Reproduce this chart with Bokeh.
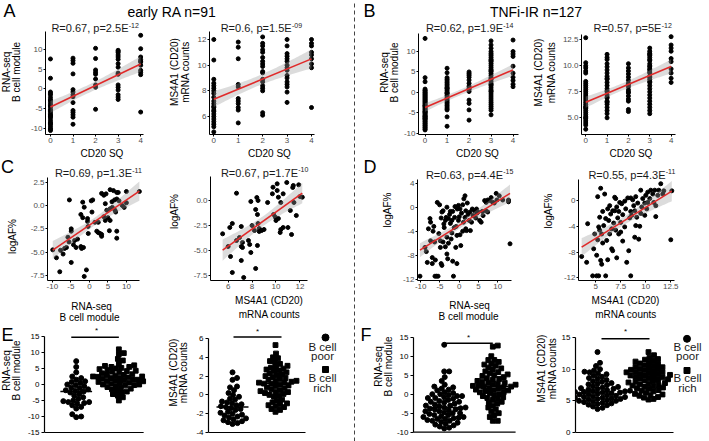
import numpy as np
from bokeh.plotting import figure
from bokeh.models import Label, FixedTicker, Range1d
from bokeh.layouts import row, column
from bokeh.embed import file_html
from bokeh.resources import INLINE

FONT = "Liberation Sans"

# ===================== DATA =====================
sq_levels = [0, 1, 2, 3, 4]

# A: early RA, CD20 SQ vs RNA-seq B cell module
a1_sq0 = [7.6, 2.7, -0.8, -1.2, -1.5, -2.2, -2.8, -3.0, -3.5, -4.0, -4.3, -4.6, -5.2, -5.5, -5.8, -6.3, -6.6, -6.9, -7.0, -7.4, -8.0, -8.5, -8.8, -9.0, -9.5, -10.0, -10.3, -10.6]
a1_sq1 = [7.8, 7.2, 6.5, 3.8, -0.2, -0.8, -1.5, -2.0, -3.5, -5.5, -6.0, -6.6, -7.2, -9.0]
a1_sq2 = [10.3, 7.7, 4.8, 4.2, 3.7, 2.5, 1.0, 0.4, -5.2]
a1_sq3 = [9.8, 9.5, 9.2, 8.6, 8.1, 7.5, 6.4, 5.5, 4.0, 3.7, 1.0, 0.4, -0.3, -1.5, -2.1, -2.7]
a1_sq4 = [13.6, 10.2, 8.1, 7.4, 7.0, 6.8, 6.0, 4.7, 4.2, 3.6, -5.9]
# A: early RA, CD20 SQ vs MS4A1 mRNA counts
a2_sq0 = [12.0, 10.4, 8.9, 8.6, 8.4, 8.2, 8.0, 7.8, 7.5, 7.2, 7.0, 6.8, 6.7, 6.5, 6.4, 6.2, 6.0, 5.8, 5.6, 5.4, 5.2, 4.8]
a2_sq1 = [11.8, 11.4, 10.5, 8.5, 8.3, 7.4, 7.2, 7.0, 6.7, 6.5, 5.5]
a2_sq2 = [12.2, 11.7, 11.5, 11.2, 11.0, 10.6, 10.3, 10.1, 9.9, 9.5, 9.4, 8.9, 8.7, 8.4, 8.2, 8.0, 6.3, 6.1]
a2_sq3 = [12.0, 11.5, 10.9, 10.7, 10.5, 10.3, 10.0, 9.8, 9.6, 9.2, 9.0, 8.7, 8.5, 8.3, 7.9, 7.1]
a2_sq4 = [12.0, 11.7, 11.5, 11.0, 10.8, 10.5, 10.1, 9.8, 6.7]

# B: TNFi-IR, CD20 SQ vs RNA-seq B cell module
b1_sq0 = [13.2, 3.6, 2.6, 0.8, 0.5, 0.3, 0.0, -0.2, -0.5, -0.7, -1.0, -1.2, -1.5, -1.7, -2.0, -2.2, -2.5, -2.7, -3.0, -3.2, -3.3, -3.5, -3.7, -4.0, -4.2, -4.5, -4.7, -4.8, -5.0, -5.2, -5.5, -5.7, -5.9, -6.0, -6.2, -6.4, -6.5, -6.7, -7.0, -7.2, -7.5, -7.7, -8.0, -8.2, -8.5, -8.7, -9.0, -9.2]
b1_sq1 = [5.9, 4.8, 3.6, 3.2, 2.8, 2.4, 2.0, 1.6, 1.2, 1.0, 0.8, 0.4, 0.0, -0.2, -0.4, -0.8, -1.2, -1.6, -2.0, -2.4, -2.8, -3.2, -3.6, -4.0, -4.3, -6.0, -8.3]
b1_sq2 = [5.0, 4.6, 4.2, 3.7, 3.0, 2.2, 1.5, 1.0, 0.7, 0.2, -1.9, -2.7, -4.3, -6.8]
b1_sq3 = [12.6, 11.6, 10.8, 10.0, 9.5, 9.1, 8.6, 8.1, 7.8, 7.6, 7.1, 6.6, 6.1, 5.6, 5.3, 5.1, 4.6, 4.1, 3.6, 3.3, 3.1, 2.6, 2.1, 1.9, 1.6, 1.1, 0.6, 0.3, 0.1, -0.4, -0.9, -1.4, -1.9, -2.4, -2.9, -3.4, -3.9, -4.4, -5.5]
b1_sq4 = [12.8, 10.0, 9.4, 8.8, 6.4, 4.7, 3.7, 2.9, 2.0, 1.4]
# B: TNFi-IR, CD20 SQ vs MS4A1 mRNA counts
b2_sq0 = [12.7, 10.3, 10.0, 9.8, 9.5, 9.3, 8.5, 8.3, 8.1, 7.9, 7.7, 7.5, 7.3, 7.1, 6.9, 6.7, 6.5, 6.3, 6.1, 6.0, 5.9, 5.7, 5.5, 5.3, 5.1, 5.0, 4.9, 4.7, 4.5, 4.3, 3.9]
b2_sq1 = [11.1, 10.8, 10.6, 10.2, 9.9, 9.6, 9.3, 9.0, 8.8, 8.7, 8.4, 8.1, 7.8, 7.6, 7.5, 7.2, 7.0, 6.9, 6.6, 6.5, 6.3, 6.0, 5.7, 5.4, 5.0]
b2_sq2 = [10.2, 9.8, 9.5, 9.2, 8.9, 8.6, 8.3, 8.2, 8.0, 7.7, 7.5, 7.4, 7.1, 6.8, 6.6, 5.8, 5.6]
b2_sq3 = [11.7, 11.4, 11.2, 11.1, 11.0, 10.8, 10.6, 10.5, 10.2, 10.0, 9.9, 9.7, 9.6, 9.4, 9.3, 9.0, 8.9, 8.7, 8.5, 8.4, 8.1, 7.8, 7.5, 7.2, 6.9, 6.6, 6.3, 6.0, 5.7, 5.4]
b2_sq4 = [12.8, 12.0, 11.7, 11.4, 10.7, 10.4, 9.7, 9.3, 8.8, 8.4]

# C: early RA, RNA-seq B cell module / MS4A1 vs logAF%  (x, y)
c1_points = [(-9.9, -4.75), (-8.9, -5.6), (-8.0, -7.1), (-7.8, -4.8), (-7.1, -5.2), (-6.7, -4.6), (-6.2, -4.5), (-5.8, -3.4), (-5.5, -3.9), (-4.9, -2.5), (-4.9, -2.75), (-4.9, -6.1), (-5.4, 0.6), (-4.3, -4.2), (-4.0, -3.75), (-3.6, -4.5), (-3.2, -3.6), (-2.3, -4.4), (-2.1, -4.6), (-2.3, -0.96), (-1.8, 0.36), (-1.4, -0.18), (-1.8, -1.3), (-1.6, -4.5), (-1.4, -7.6), (-0.8, -6.9), (-0.5, -1.4), (-0.5, -1.7), (-0.35, -2.25), (-0.3, -3.0), (0.5, 0.5), (0.7, -0.7), (0.9, 0.6), (1.5, -1.8), (2.0, -2.75), (2.4, -1.8), (2.4, -2.9), (2.9, -3.0), (3.3, -3.3), (3.3, -3.1), (3.3, 1.3), (3.9, 1.1), (3.9, -1.2), (4.3, -1.6), (4.3, 0.2), (4.5, 1.25), (4.7, -0.5), (5.0, -1.3), (5.6, 1.7), (5.6, -0.35), (5.4, -2.7), (5.6, -1.6), (6.1, 0.4), (6.2, -0.2), (6.5, 1.6), (6.8, 0.6), (6.9, -0.5), (7.1, -0.7), (7.4, 1.4), (7.4, -2.75), (7.4, -3.5), (7.8, 1.4), (7.4, 0.7), (8.0, 0.5), (8.9, 0.0), (9.4, -0.2), (10.0, 1.5), (10.0, 0.3), (13.5, 1.5)]
c2_points = [(5.54, -3.33), (6.0, -4.6), (6.14, -2.7), (6.2, -5.6), (6.35, -2.3), (6.35, -7.2), (6.7, 0.73), (6.7, -4.0), (6.95, -3.7), (7.1, -2.6), (7.1, -4.6), (7.2, -4.7), (7.1, -6.0), (7.2, -4.2), (7.3, -7.7), (7.7, -4.0), (7.8, -4.4), (7.9, -0.1), (7.9, -5.2), (8.0, -2.5), (8.2, -3.0), (8.3, -6.8), (8.3, -0.9), (8.4, 0.3), (8.45, -1.4), (8.45, -4.5), (8.5, 0.0), (8.5, -2.3), (8.6, -2.8), (8.6, -3.1), (8.8, -3.0), (9.0, -2.9), (9.3, -0.2), (9.7, 0.67), (9.75, 1.33), (9.8, -1.4), (9.95, -1.67), (10.0, -2.0), (10.1, 1.67), (10.1, 1.0), (10.2, -1.8), (10.2, 0.33), (10.35, -3.2), (10.4, -2.9), (10.4, -0.2), (10.6, 0.67), (10.6, -2.7), (10.9, 1.8), (11.0, -2.7), (11.2, -1.0), (11.3, -3.4), (11.4, 1.3), (11.45, 1.5), (11.5, -0.2), (11.7, -1.5), (11.9, 1.57), (12.0, 0.4), (12.2, 0.33)]

# D: TNFi-IR, RNA-seq B cell module / MS4A1 vs logAF%  (x, y)
d1_points = [(-10.2, -11.5), (-8.9, -6.7), (-8.55, -7.4), (-8.3, -9.2), (-8.0, -3.6), (-7.6, -1.9), (-7.45, -2.5), (-7.45, -5.6), (-7.0, -9.4), (-7.0, -8.4), (-6.8, -4.0), (-6.6, -3.2), (-6.4, -5.8), (-6.3, -11.5), (-6.2, -8.8), (-5.9, -11.5), (-5.7, 0.8), (-5.5, -11.5), (-5.3, -4.4), (-5.1, 0.4), (-4.9, -5.6), (-4.9, -6.7), (-4.7, -1.8), (-4.7, -9.4), (-4.5, -9.7), (-4.5, -0.8), (-4.2, -0.6), (-4.2, -5.8), (-4.0, -2.8), (-3.9, -3.4), (-3.6, -2.2), (-3.6, -6.6), (-3.4, -1.7), (-3.2, 0.0), (-3.2, -5.0), (-3.2, -7.8), (-3.0, -8.6), (-2.8, -6.0), (-2.8, -1.9), (-2.5, -1.2), (-2.3, -2.7), (-2.3, -0.7), (-2.1, -5.3), (-1.9, -2.2), (-1.9, -4.3), (-1.7, -9.0), (-1.7, -0.7), (-1.5, -11.5), (-1.3, -3.4), (-1.2, -1.7), (-1.1, 0.1), (-0.9, -6.7), (-0.8, -3.2), (-0.6, -4.7), (-0.6, -9.4), (-0.5, -0.3), (-0.2, 0.3), (-0.2, -2.2), (0.0, -1.6), (0.2, -0.3), (0.2, -4.6), (0.4, -6.4), (0.6, -1.0), (0.9, 0.4), (0.9, -4.0), (1.1, -2.5), (1.2, 1.4), (1.5, -1.7), (1.5, 1.9), (1.7, -0.6), (1.7, -3.6), (1.9, -3.9), (2.1, 0.7), (2.3, -1.2), (2.6, -2.2), (2.8, -0.8), (2.9, -3.9), (3.2, -2.5), (3.4, -0.3), (3.6, -1.4), (4.0, -0.6), (4.3, -1.8), (4.5, -0.3), (4.6, -1.0), (4.9, -0.8), (5.3, -2.2), (5.7, -2.5), (6.0, -0.7), (6.2, -1.4), (6.6, 1.1), (6.9, -0.6), (7.0, 0.8), (7.4, 1.2), (7.4, -0.8), (7.9, 1.1), (8.3, 1.6), (8.7, 0.8), (9.1, 0.7), (9.6, 2.3), (9.8, 1.2), (10.4, 1.9), (11.3, 1.2), (12.8, 1.2), (12.8, 0.9), (13.2, -6.1)]
d2_points = [(3.6, -8.7), (4.1, -9.6), (4.2, -3.6), (4.7, -11.7), (4.8, -7.5), (4.9, -5.2), (5.1, -8.5), (5.1, -11.7), (5.2, 0.6), (5.2, -6.1), (5.3, -4.1), (5.3, -11.7), (5.4, -4.6), (5.4, -2.6), (5.5, 1.9), (5.5, -9.3), (5.6, -9.9), (5.6, -5.2), (5.7, -6.6), (5.7, -1.7), (5.8, -3.9), (5.9, 1.0), (6.0, -2.8), (6.0, -11.7), (6.1, -6.2), (6.2, -1.3), (6.2, -9.2), (6.3, -3.1), (6.4, -0.8), (6.4, -5.2), (6.5, -2.1), (6.6, -7.5), (6.6, -4.4), (6.7, -7.8), (6.7, -1.6), (6.8, -3.5), (6.9, 0.5), (6.9, -1.6), (7.0, 0.3), (7.0, -4.6), (7.1, -8.9), (7.1, -1.0), (7.2, -2.7), (7.3, -5.2), (7.3, -1.7), (7.4, -0.3), (7.5, -3.4), (7.5, -4.9), (7.6, -0.5), (7.7, -2.2), (7.7, -6.3), (7.9, -0.1), (7.9, -4.1), (8.0, -1.3), (8.1, -9.6), (8.2, 0.4), (8.3, -7.8), (8.4, -2.7), (8.5, 0.4), (8.5, -11.7), (8.5, -1.7), (8.6, -2.3), (8.7, 0.1), (8.8, -0.8), (8.9, -5.7), (8.9, -1.6), (9.0, -3.9), (9.0, 0.6), (9.1, -2.6), (9.2, -0.4), (9.3, -6.0), (9.4, -4.0), (9.5, 1.6), (9.5, -2.0), (9.6, -1.0), (9.7, 0.3), (9.9, -2.3), (9.9, -0.4), (10.0, 0.8), (10.1, -1.3), (10.2, -0.3), (10.2, 1.3), (10.4, 0.3), (10.5, 1.6), (10.7, 1.0), (10.8, -0.3), (10.9, 1.6), (11.0, -0.8), (11.0, -2.5), (11.2, 0.8), (11.3, 1.6), (11.5, 2.6), (11.7, 1.0), (11.8, 1.5), (12.5, -6.1), (12.6, 1.5)]

# Regression lines (intercept, slope) and stats text
fit_intercept = [-4.6, 7.35, -3.7, 6.5, -2.1, -9.71, -3.03, -10.73]
fit_slope = [2.725, 0.785, 2.3, 0.86, 0.27, 0.857, 0.405, 0.967]
r_text = ["0.67", "0.6", "0.62", "0.57", "0.69", "0.67", "0.63", "0.55"]
p_mant = ["2.5", "1.5", "1.9", "5", "1.3", "1.7", "4.4", "4.3"]
p_exp = ["-12", "-09", "-14", "-12", "-11", "-10", "-15", "-11"]

# E / F: B cell poor vs B cell rich
e1_poor = [7.3, 5.5, 3.8, 2.5, 2.0, 1.5, 1.0, 0.8, 0.5, 0.0, -0.2, -0.5, -1.0, -1.2, -1.5, -1.8, -2.0, -2.2, -2.5, -3.0, -3.5, -4.0, -4.5, -5.0, -5.2, -5.5, -5.5, -5.8, -6.0, -6.5, -7.0, -7.5, -9.3, -10.0, -10.2]
e1_rich = [11.0, 9.8, 9.5, 8.0, 7.5, 6.5, 6.0, 5.8, 5.5, 5.5, 5.2, 5.0, 4.8, 4.5, 4.3, 4.2, 4.0, 3.8, 3.5, 3.2, 3.0, 3.0, 2.8, 2.5, 2.5, 2.4, 2.2, 2.0, 2.0, 1.8, 1.5, 1.5, 1.3, 1.2, 1.0, 1.0, 0.8, 0.6, 0.5, 0.3, 0.0, 0.0, -0.2, -0.3, -0.5, -0.8, -1.0, -1.3, -1.5, -2.0, -2.2, -2.5, -3.0, -3.5, -4.0, -5.0]
e2_poor = [2.4, 1.8, 1.6, 0.9, 0.8, 0.5, 0.2, 0.0, -0.2, -0.4, -0.5, -0.7, -0.8, -0.9, -1.0, -1.1, -1.2, -1.3, -1.4, -1.5, -1.6, -1.8, -1.9, -2.0, -2.1, -2.2, -2.3, -2.4, -2.5, -2.6, -2.7, -2.8, -2.9, -3.0, -3.1]
e2_rich = [5.3, 4.4, 4.0, 3.9, 3.6, 3.5, 3.3, 3.1, 3.0, 2.9, 2.8, 2.7, 2.6, 2.5, 2.4, 2.3, 2.2, 2.1, 2.0, 1.9, 1.8, 1.7, 1.6, 1.5, 1.5, 1.4, 1.3, 1.3, 1.2, 1.2, 1.1, 1.0, 0.9, 0.8, 0.7, 0.6, 0.5, 0.4, 0.3, 0.3, 0.2, 0.1, 0.0, -0.1, -0.2, -0.5, -0.6, -0.8, -0.9, -1.0, -1.1, -1.2, -1.3, -1.5, -1.6, -1.8]
f1_poor = [13.0, 6.0, 6.0, 4.5, 3.5, 2.5, 2.0, 1.8, 1.5, 1.2, 1.0, 0.5, 0.3, 0.0, 0.0, -0.2, -0.5, -0.5, -0.8, -1.0, -1.0, -1.2, -1.5, -1.8, -2.0, -2.0, -2.2, -2.5, -2.7, -3.0, -3.0, -3.2, -3.5, -3.5, -3.7, -3.8, -4.0, -4.0, -4.2, -4.5, -4.5, -4.8, -5.0, -5.0, -5.2, -5.5, -5.5, -5.8, -6.0, -6.0, -6.2, -6.3, -6.5, -6.5, -6.8, -7.0, -7.0, -7.3, -7.5, -7.8, -8.0, -8.2, -8.5, -8.8, -9.0]
f1_rich = [12.8, 12.5, 10.0, 9.0, 9.0, 8.5, 8.0, 7.8, 7.5, 7.0, 6.8, 6.5, 6.0, 5.8, 5.5, 5.2, 5.0, 4.8, 4.5, 4.2, 4.0, 3.8, 3.5, 3.2, 3.0, 3.0, 2.8, 2.5, 2.5, 2.2, 2.2, 2.0, 2.0, 1.8, 1.5, 1.5, 1.2, 1.0, 1.0, 0.8, 0.5, 0.5, 0.2, 0.0, -0.3, -0.5, -0.8, -1.0, -1.2, -1.5, -2.0, -2.2, -2.5, -3.0, -3.5, -4.0, -4.5, -5.0, -5.5, -6.0, -7.0, -7.0]
f2_poor = [12.7, 11.0, 10.5, 10.0, 9.8, 9.6, 9.5, 9.3, 9.2, 9.0, 8.8, 8.6, 8.5, 8.3, 8.1, 8.0, 7.8, 7.7, 7.6, 7.5, 7.3, 7.2, 7.1, 7.0, 6.9, 6.9, 6.8, 6.7, 6.6, 6.6, 6.5, 6.5, 6.4, 6.4, 6.3, 6.3, 6.2, 6.1, 6.0, 6.0, 5.9, 5.8, 5.8, 5.7, 5.6, 5.6, 5.5, 5.5, 5.4, 5.3, 5.3, 5.2, 5.1, 5.0, 5.0, 4.9, 4.8, 4.7, 4.6, 4.5, 4.4, 4.3, 4.1, 3.9, 3.7]
f2_rich = [12.7, 12.2, 11.8, 11.6, 11.5, 11.3, 11.2, 11.0, 10.9, 10.8, 10.6, 10.5, 10.4, 10.3, 10.2, 10.1, 10.0, 9.9, 9.8, 9.7, 9.6, 9.5, 9.5, 9.4, 9.3, 9.2, 9.1, 9.0, 9.0, 8.9, 8.8, 8.7, 8.6, 8.5, 8.4, 8.3, 8.2, 8.1, 8.0, 7.9, 7.8, 7.7, 7.6, 7.5, 7.4, 7.3, 7.2, 7.1, 7.0, 6.9, 6.7, 6.6, 6.5, 6.3, 6.1, 6.0, 5.9, 5.8, 5.6, 5.5, 5.3, 5.2]

# tick values / labels
sq_ticks = [0, 1, 2, 3, 4]
mod_ticks = [-10, -5, 0, 5, 10]
a2_yticks = [6, 8, 10, 12]
b2_yticks = [5.0, 7.5, 10.0, 12.5]
b2_ylabels = ["5.0", "7.5", "10.0", "12.5"]
c1_yticks = [-7.5, -5.0, -2.5, 0.0, 2.5]
c1_ylabels = ["-7.5", "-5.0", "-2.5", "0.0", "2.5"]
c2_xticks = [6, 8, 10, 12]
c2_yticks = [-7.5, -5.0, -2.5, 0.0]
c2_ylabels = ["-7.5", "-5.0", "-2.5", "0.0"]
d1_yticks = [-12, -8, -4, 0, 4]
d2_xticks = [5, 7.5, 10, 12.5]
d2_xlabels = ["5", "7.5", "10", "12.5"]
d2_yticks = [-12, -8, -4, 0]
e1_yticks = [-15, -10, -5, 0, 5, 10, 15]
e2_yticks = [-4, -2, 0, 2, 4, 6]
f1_yticks = [-10, -5, 0, 5, 10, 15]
f2_yticks = [0, 5, 10, 15]

# ===================== HELPERS =====================
# Arial / Liberation Sans advance widths (per 1000 em), used to centre texts
AW = {' ': 278, '!': 278, '%': 889, '(': 333, ')': 333, '*': 389, ',': 278, '-': 333,
      '.': 278, '=': 584, 'A': 667, 'B': 667, 'C': 722, 'D': 722, 'E': 667, 'F': 611,
      'G': 778, 'I': 278, 'M': 833, 'N': 722, 'Q': 778, 'R': 722, 'S': 667, 'T': 611,
      'a': 556, 'c': 500, 'd': 556, 'e': 556, 'f': 278, 'g': 556, 'h': 556, 'i': 222,
      'k': 500, 'l': 222, 'm': 833, 'n': 556, 'o': 556, 'p': 556, 'q': 556, 'r': 333,
      's': 500, 't': 278, 'u': 556, 'y': 500}


def tw(s, size):
    return sum(AW.get(ch, 556) for ch in s) * size / 1000.0


def lin_range(p_lo, p_hi, va, pa, vb, pb):
    s = (vb - va) / (pb - pa)
    return va + (p_lo - pa) * s, va + (p_hi - pa) * s


class Panel:
    """A figure whose canvas is `box` and plotting frame is `frame` (page pixels)."""

    def __init__(self, box, frame=None, xa=None, ya=None, xaxis=False, yaxis=False):
        frame = frame or box
        cx, cy, cw, ch = box
        fx, fy, fw, fh = frame
        self.frame = frame
        self.x0, self.x1 = lin_range(fx, fx + fw, *xa) if xa else (0.0, 1.0)
        self.y0, self.y1 = lin_range(fy + fh, fy, *ya) if ya else (0.0, 1.0)
        self.sx = fw / (self.x1 - self.x0)
        self.sy = fh / (self.y1 - self.y0)
        p = figure(width=cw, height=ch, x_range=Range1d(self.x0, self.x1),
                   y_range=Range1d(self.y0, self.y1), output_backend="svg",
                   toolbar_location=None,
                   min_border_left=fx - cx, min_border_right=cx + cw - fx - fw,
                   min_border_top=fy - cy, min_border_bottom=cy + ch - fy - fh,
                   x_axis_location="below" if xaxis else None,
                   y_axis_location="left" if yaxis else None)
        p.outline_line_color = None
        p.grid.visible = False
        p.background_fill_color = "white"
        p.border_fill_color = "white"
        self.p = p

    def px2x(self, X):
        return self.x0 + (X - self.frame[0]) / self.sx

    def px2y(self, Y):
        fx, fy, fw, fh = self.frame
        return self.y0 + (fy + fh - Y) / self.sy

    def label(self, X, Y, text, size, vertical=False, centre=True, color="black"):
        """X, Y: centre (or left end when centre=False) of the text line, page px."""
        fx, fy, fw, fh = self.frame
        w = tw(text, size) if centre else 0.0
        if vertical:
            ax, ay, ang = X, Y + w / 2.0, np.pi / 2
        else:
            ax, ay, ang = X - w / 2.0, Y, 0.0
        self.p.add_layout(Label(x=self.x0, y=self.y0, x_offset=ax - fx, y_offset=fy + fh - ay,
                                text=text, text_font_size=f"{size}px", text_font=FONT,
                                text_color=color, text_align="left", text_baseline="middle",
                                angle=ang))


def make_cell(cell, frame, xa, ya, aspace, bb=None, xaxis=True):
    """cell: canvas area; frame: the axis area. The plot frame is stretched to the
    cell top and right edge (axes kept to their original extent with bounds) so that
    titles fit inside it."""
    cx, cy, cw, ch = cell
    fx, fy, fw, fh = frame
    rx = fx - aspace
    rw = cx + cw - rx
    if bb is None:
        bb = cy + ch - fy - fh
    ext = (fx, cy, cx + cw - fx, fy + fh - cy)
    plot = Panel((rx, cy, rw, fy + fh - cy + bb), ext, xa, ya, xaxis, True)
    plot.p.yaxis.bounds = (plot.px2y(fy + fh), plot.px2y(fy))
    if xaxis:
        plot.p.xaxis.bounds = (plot.px2x(fx), plot.px2x(fx + fw))
    d = {"plot": plot}
    rest = cy + ch - (fy + fh + bb)
    if rest > 0:
        d["bot"] = Panel((rx, fy + fh + bb, rw, rest), (fx, fy + fh + bb, cx + cw - fx, rest))
        d["ylab"] = Panel((cx, cy, rx - cx, ch))
        lay = row(d["ylab"].p, column(plot.p, d["bot"].p))
    else:
        d["ylab"] = Panel((cx, cy, rx - cx, ch), (cx, cy, rx - cx, fy + fh - cy))
        lay = row(d["ylab"].p, plot.p)
    return d, lay


def style_axis(ax, ticks, labels, color, tick_out=2, lw=1.0, standoff=1):
    ax.ticker = FixedTicker(ticks=ticks)
    ax.major_label_overrides = {t: l for t, l in zip(ticks, labels)}
    ax.minor_tick_line_color = None
    ax.major_tick_in = 0
    ax.major_tick_out = tick_out
    ax.major_tick_line_color = "black"
    ax.axis_line_color = "black"
    ax.axis_line_width = lw
    ax.major_tick_line_width = lw
    ax.major_label_text_font = FONT
    ax.major_label_text_font_size = "8px"
    ax.major_label_text_color = color
    ax.major_label_standoff = standoff


def sq_xy(groups):
    xs, ys = [], []
    for lvl, vals in zip(sq_levels, groups):
        xs += [lvl] * len(vals)
        ys += list(vals)
    return xs, ys


def scatter_panel(P, x, y, k, xt, xl, yt, yl):
    x = np.asarray(x, float)
    y = np.asarray(y, float)
    a, b = fit_intercept[k], fit_slope[k]
    n = len(x)
    xm = x.mean()
    sxx = ((x - xm) ** 2).sum()
    s = np.sqrt(((y - (a + b * x)) ** 2).sum() / (n - 2))
    gx = np.linspace(x.min(), x.max(), 60)
    half = 1.98 * s * np.sqrt(1.0 / n + (gx - xm) ** 2 / sxx)
    P.p.scatter(x, y, size=4, color="black")
    P.p.varea(x=gx, y1=a + b * gx - half, y2=a + b * gx + half, fill_color="#9a9a9a", fill_alpha=0.35)
    P.p.line([gx[0], gx[-1]], [a + b * gx[0], a + b * gx[-1]], color="#e02a2a", line_width=1.6)
    style_axis(P.p.xaxis, xt, xl, "#4d4d4d")
    style_axis(P.p.yaxis, yt, yl, "#4d4d4d")


def stat_title(T, k, tcx, tbase, exp_dy=7.0):
    main = f"R={r_text[k]}, p={p_mant[k]}E"
    w1, w2 = tw(main, 11), tw(p_exp[k], 7)
    left = tcx - (w1 + w2) / 2
    T.label(left, tbase - 3.9, main, 11, centre=False, color="#1a1a1a")
    T.label(left + w1 + 0.3, tbase - exp_dy, p_exp[k], 7, centre=False, color="#1a1a1a")


def swarm_offsets(vals, sy, d):
    ypx = np.asarray(vals, float) * sy
    order = np.argsort(ypx, kind="stable")
    cands = [0.0]
    for k in range(1, 120):
        cands += [0.5 * k, -0.5 * k]
    offs = np.zeros(len(ypx))
    placed = []
    for i in order:
        chosen = 0.0
        for c in cands:
            ok = True
            for (px, py) in placed:
                if abs(py - ypx[i]) < d and (px - c) ** 2 + (py - ypx[i]) ** 2 < d * d:
                    ok = False
                    break
            if ok:
                chosen = c
                break
        offs[i] = chosen
        placed.append((chosen, ypx[i]))
    return offs


def dot_panel(P, poor, rich, yt, x_end_px, sig, star, med_half=16):
    p = P.p
    style_axis(p.yaxis, yt, [str(t) for t in yt], "black", tick_out=3, lw=1.2, standoff=2)
    p.yaxis.bounds = (yt[0], yt[-1])
    p.line([P.x0, P.px2x(x_end_px)], [yt[0], yt[0]], color="black", line_width=1.2)
    for g, vals, marker, size in ((1, poor, "circle", 5.0), (2, rich, "square", 4.8)):
        off = swarm_offsets(vals, P.sy, 4.8)
        p.scatter(g + off / P.sx, vals, marker=marker, size=size, color="black")
        med = float(np.median(vals))
        p.line([g - med_half / P.sx, g + med_half / P.sx], [med, med], color="black", line_width=1.5)
    p.line([P.px2x(sig[0]), P.px2x(sig[1])], [P.px2y(sig[2])] * 2, color="black", line_width=1.6)
    P.label(star[0], star[1], "*", 8)


def legend(P, cx_txt, mk_x, y_circ, y_sq, y_lines):
    P.p.scatter([P.px2x(mk_x)], [P.px2y(y_circ)], marker="circle", size=7, color="black")
    P.p.scatter([P.px2x(mk_x)], [P.px2y(y_sq)], marker="square", size=6, color="black")
    for txt, yy in zip(["B cell", "poor", "B cell", "rich"], y_lines):
        P.label(cx_txt, yy, txt, 11.5, color="#1a1a1a")


def ylab(T, xs, yc, lines, size=10):
    for X, t in zip(xs, lines):
        T.label(X, yc, t, size, vertical=True)


# ===================== LAYOUT (page pixels) =====================
HDR = 21
hdrL = Panel((0, 0, 352, HDR))
hdrR = Panel((356, 0, 353, HDR))
hdrL.label(3, 10.5, "A", 18, centre=False)
hdrL.label(173.5, 11.5, "early RA  n=91", 14)
hdrR.label(363, 10.5, "B", 18, centre=False)
hdrR.label(535.5, 11.5, "TNFi-IR n=127", 14)

divider = Panel((352, 0, 4, 441))
divider.p.line([0.5, 0.5], [0, 1], color="#444444", line_width=1, line_dash="4 3")

# ---- Row 1 ----
R1 = (HDR, 148 - HDR)
A1, A1L = make_cell((0, R1[0], 160, R1[1]), (44, 31, 99, 103), (0, 49, 4, 140), (10, 49, -10, 127.7), 17)
A2, A2L = make_cell((160, R1[0], 192, R1[1]), (209, 31, 105, 103), (0, 213.3, 4, 311), (12, 39, 6, 116), 17)
B1, B1L = make_cell((356, R1[0], 169, R1[1]), (416, 33, 102, 101), (0, 422.7, 4, 512.3), (10, 51, -10, 132.7), 16)
B2, B2L = make_cell((525, R1[0], 184, R1[1]), (579, 34, 95, 100), (0, 583.3, 4, 670), (12.5, 39.3, 5, 117.3), 20)

sq_lab = [str(t) for t in sq_ticks]
mod_lab = [str(t) for t in mod_ticks]
x, y = sq_xy([a1_sq0, a1_sq1, a1_sq2, a1_sq3, a1_sq4])
scatter_panel(A1["plot"], x, y, 0, sq_ticks, sq_lab, mod_ticks, mod_lab)
x, y = sq_xy([a2_sq0, a2_sq1, a2_sq2, a2_sq3, a2_sq4])
scatter_panel(A2["plot"], x, y, 1, sq_ticks, sq_lab, a2_yticks, [str(t) for t in a2_yticks])
x, y = sq_xy([b1_sq0, b1_sq1, b1_sq2, b1_sq3, b1_sq4])
scatter_panel(B1["plot"], x, y, 2, sq_ticks, sq_lab, mod_ticks, mod_lab)
x, y = sq_xy([b2_sq0, b2_sq1, b2_sq2, b2_sq3, b2_sq4])
scatter_panel(B2["plot"], x, y, 3, sq_ticks, sq_lab, b2_yticks, b2_ylabels)

stat_title(A1["plot"], 0, 93.5, 31.2, 6.2)
stat_title(A2["plot"], 1, 260.7, 31.2, 6.2)
stat_title(B1["plot"], 2, 467, 31.2, 6.2)
stat_title(B2["plot"], 3, 630, 31.2, 6.2)

ylab(A1["ylab"], [6, 15.5], 71.5, ["RNA-seq", "B cell module"])
ylab(A2["ylab"], [173.5, 185], 71.5, ["MS4A1 (CD20)", "mRNA counts"])
ylab(B1["ylab"], [384, 394], 72, ["RNA-seq", "B cell module"])
ylab(B2["ylab"], [538, 550.5], 72, ["MS4A1 (CD20)", "mRNA counts"])

# ---- Row 2 ----
C1, C1L = make_cell((0, 148, 160, 174), (44, 177, 94, 103), (-10, 49, 10, 125), (2.5, 181.7, -7.5, 275), 17, bb=13)
C2, C2L = make_cell((160, 148, 192, 174), (207, 176, 99, 104), (6, 225, 12, 298.3), (0, 200, -7.5, 275), 17, bb=13)
D1, D1L = make_cell((356, 148, 169, 174), (415, 179, 96, 101), (-10, 418.3, 10, 496.7), (4, 182.7, -12, 278.7), 16, bb=13)
D2, D2L = make_cell((525, 148, 184, 174), (577, 179, 97, 101), (5, 594.3, 12.5, 670), (0, 200, -12, 277.3), 17, bb=13)

cx_, cy_ = zip(*c1_points)
scatter_panel(C1["plot"], cx_, cy_, 4, mod_ticks, mod_lab, c1_yticks, c1_ylabels)
cx_, cy_ = zip(*c2_points)
scatter_panel(C2["plot"], cx_, cy_, 5, c2_xticks, [str(t) for t in c2_xticks], c2_yticks, c2_ylabels)
cx_, cy_ = zip(*d1_points)
scatter_panel(D1["plot"], cx_, cy_, 6, mod_ticks, mod_lab, d1_yticks, [str(t) for t in d1_yticks])
cx_, cy_ = zip(*d2_points)
scatter_panel(D2["plot"], cx_, cy_, 7, d2_xticks, d2_xlabels, d2_yticks, [str(t) for t in d2_yticks])

stat_title(C1["plot"], 4, 95, 176.5)
stat_title(C2["plot"], 5, 261, 176)
stat_title(D1["plot"], 6, 467, 178.3)
stat_title(D2["plot"], 7, 630.5, 178)

# x titles of row 1 (they sit in the top part of the row-2 canvases)
C1["plot"].label(98.5, 152.5, "CD20 SQ", 10)
C2["plot"].label(266, 152.5, "CD20 SQ", 10)
D1["plot"].label(475, 152.5, "CD20 SQ", 10)
D2["plot"].label(629.5, 152.5, "CD20 SQ", 10)

C1["ylab"].label(0.5, 166, "C", 18, centre=False)
D1["ylab"].label(363, 166, "D", 18, centre=False)

ylab(C1["ylab"], [12], 236, ["logAF%"])
ylab(C2["ylab"], [174], 211, ["logAF%"])
ylab(D1["ylab"], [387], 209.5, ["logAF%"])
ylab(D2["ylab"], [548], 210.5, ["logAF%"])

C1["bot"].label(88, 306, "RNA-seq", 10)
C1["bot"].label(86, 317, "B cell module", 10)
C2["bot"].label(265.5, 299.5, "MS4A1 (CD20)", 10)
C2["bot"].label(266, 313.5, "mRNA counts", 10)
D1["bot"].label(467, 304.5, "RNA-seq", 10)
D1["bot"].label(466, 316, "B cell module", 10)
D2["bot"].label(624, 299.5, "MS4A1 (CD20)", 10)
D2["bot"].label(624.5, 313.5, "mRNA counts", 10)

# ---- Row 3 ----
E1, E1L = make_cell((0, 322, 160, 119), (43, 322, 117, 119), (1, 75, 2, 118), (15, 336, -15, 432), 19, xaxis=False)
E2, E2L = make_cell((160, 322, 192, 119), (208, 322, 144, 119), (1, 232, 2, 275), (6, 338, -4, 432), 19, xaxis=False)
F1, F1L = make_cell((356, 322, 169, 119), (412, 322, 113, 119), (1, 443, 2, 492), (10, 355.7, -10, 431.7), 19, xaxis=False)
F2, F2L = make_cell((525, 322, 184, 119), (575, 322, 134, 119), (1, 597, 2, 648), (15, 337, 0, 432), 17, xaxis=False)

dot_panel(E1["plot"], e1_poor, e1_rich, e1_yticks, 143, (70, 118, 336.7), (95, 330))
dot_panel(E2["plot"], e2_poor, e2_rich, e2_yticks, 305, (233, 281, 336.5), (257, 331))
dot_panel(F1["plot"], f1_poor, f1_rich, f1_yticks, 515, (443, 492, 342.7), (467, 337))
dot_panel(F2["plot"], f2_poor, f2_rich, f2_yticks, 673, (601, 649, 338.3), (625, 331))

legend(E2["plot"], 322, 325, 337, 369, [346, 355, 377.5, 387.5])
legend(F2["plot"], 687, 686.5, 338.3, 370, [346.7, 355, 377.5, 387.5])

E1["ylab"].label(1, 334, "E", 18, centre=False)
F1["ylab"].label(360, 334, "F", 18, centre=False)
ylab(E1["ylab"], [6, 16], 370, ["RNA-seq", "B cell module"])
ylab(E2["ylab"], [172.5, 183], 372, ["MS4A1 (CD20)", "mRNA counts"])
ylab(F1["ylab"], [377.5, 388], 366, ["RNA-seq", "B cell module"])
ylab(F2["ylab"], [541, 552], 368, ["MS4A1 (CD20)", "mRNA counts"])

left_col = column(hdrL.p, row(A1L, A2L), row(C1L, C2L), row(E1L, E2L))
right_col = column(hdrR.p, row(B1L, B2L), row(D1L, D2L), row(F1L, F2L))
layout = row(left_col, divider.p, right_col)

open("out.html", "w").write(file_html(layout, INLINE))
